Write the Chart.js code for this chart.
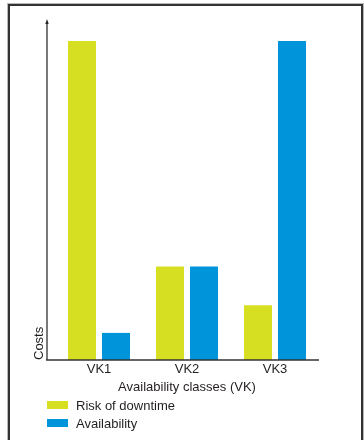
<!DOCTYPE html>
<html>
<head>
<meta charset="utf-8">
<title>Costs by availability class</title>
<script src="https://cdn.jsdelivr.net/npm/chart.js@4/dist/chart.umd.min.js"></script>
<style>
  html, body { margin: 0; padding: 0; background: #fff; }
  #wrap { position: relative; width: 364px; height: 440px; overflow: hidden; }
  #frame {
    position: absolute; left: 8px; top: 4px; width: 351px; height: 470px;
    border: 2px solid #333; box-shadow: 0 0 0 1px #b8b8b8;
  }
  #chart { position: absolute; left: 0; top: 0; }
  #legend {
    position: absolute; left: 47px; top: 396px;
    font: 13px "Liberation Sans", Arial, sans-serif; color: #231f20;
  }
  #legend .item { display: flex; align-items: center; height: 18px; }
  #legend .sw { width: 21px; height: 8px; margin-right: 8px; }
</style>
</head>
<body>
<div id="wrap">
  <div id="frame"></div>
  <canvas id="chart" width="364" height="440"></canvas>
  <div id="legend"></div>
</div>
<script>
// Relative costs per availability class (tallest bar = 100)
const categories = ['VK1', 'VK2', 'VK3'];
const riskOfDowntime = [100, 29.3, 17.2];
const availability = [8.5, 29.3, 100];
const seriesNames = ['Risk of downtime', 'Availability'];
const seriesColors = ['#d7df23', '#0095da'];
const xTitle = 'Availability classes (VK)';
const yTitle = 'Costs';

const FONT = '"Liberation Sans", Arial, sans-serif';
Chart.defaults.font.family = FONT;
Chart.defaults.font.size = 13;
Chart.defaults.color = '#231f20';

// Axis lines: the y axis sits a little left of the plot and ends in a small arrow
const axisLines = {
  id: 'axisLines',
  afterDatasetsDraw(chart) {
    const { ctx, chartArea } = chart;
    const yAxisX = chartArea.left - 8;
    const topY = chartArea.top - 22;
    ctx.save();
    ctx.strokeStyle = '#6a6a6a';
    ctx.lineWidth = 1.8;
    ctx.beginPath();
    ctx.moveTo(yAxisX, chartArea.bottom);
    ctx.lineTo(yAxisX, topY + 3);
    ctx.stroke();
    ctx.fillStyle = '#222';
    ctx.beginPath();
    ctx.moveTo(yAxisX, topY);
    ctx.lineTo(yAxisX + 1.7, topY + 5);
    ctx.lineTo(yAxisX - 1.7, topY + 5);
    ctx.closePath();
    ctx.fill();
    ctx.strokeStyle = '#333';
    ctx.lineWidth = 1.5;
    ctx.beginPath();
    ctx.moveTo(yAxisX - 0.9, chartArea.bottom);
    ctx.lineTo(chartArea.right, chartArea.bottom);
    ctx.stroke();
    ctx.restore();
  }
};

const chart = new Chart(document.getElementById('chart'), {
  type: 'bar',
  data: {
    labels: categories,
    datasets: [
      { label: seriesNames[0], data: riskOfDowntime, backgroundColor: seriesColors[0] },
      { label: seriesNames[1], data: availability, backgroundColor: seriesColors[1] }
    ]
  },
  options: {
    responsive: false,
    animation: false,
    devicePixelRatio: 1,
    categoryPercentage: 0.7727,
    barPercentage: 0.8235,
    layout: { padding: { left: 27.2, right: 45, top: 41, bottom: 40.5 } },
    plugins: {
      legend: { display: false },
      tooltip: { enabled: false }
    },
    scales: {
      x: {
        grid: { display: false, drawTicks: false },
        border: { display: false },
        ticks: { padding: 2, font: { size: 13 }, color: '#231f20' },
        title: { display: true, text: xTitle, font: { size: 13 }, color: '#231f20', padding: { top: 0.3, bottom: 4 } }
      },
      y: {
        min: 0,
        max: 100,
        grid: { display: false, drawTicks: false },
        border: { display: false },
        ticks: { display: false },
        title: { display: true, text: yTitle, align: 'start', font: { size: 13 }, color: '#231f20', padding: { top: 4, bottom: 8.2 } }
      }
    }
  },
  plugins: [axisLines]
});

// Legend listed one series per row below the chart
const legendEl = document.getElementById('legend');
chart.data.datasets.forEach(ds => {
  const row = document.createElement('div');
  row.className = 'item';
  const sw = document.createElement('span');
  sw.className = 'sw';
  sw.style.background = ds.backgroundColor;
  const txt = document.createElement('span');
  txt.textContent = ds.label;
  row.appendChild(sw);
  row.appendChild(txt);
  legendEl.appendChild(row);
});
</script>
</body>
</html>
